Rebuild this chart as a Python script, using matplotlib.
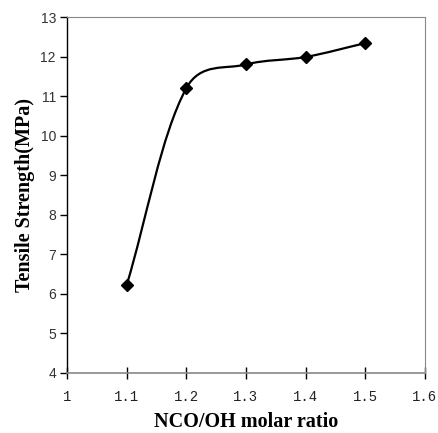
import numpy as np
import matplotlib.pyplot as plt
from matplotlib.path import Path
from matplotlib.patches import PathPatch

# data
ratio = [1.1, 1.2, 1.3, 1.4, 1.5]
strength = [6.22, 11.2, 11.8, 11.99, 12.34]

xticks = [1, 1.1, 1.2, 1.3, 1.4, 1.5, 1.6]
xticklabels = ['1', '1.1', '1.2', '1.3', '1.4', '1.5', '1.6']
yticks = list(range(4, 14))

fig = plt.figure(figsize=(4.39, 4.33), dpi=100)
ax = fig.add_axes([0.1526, 0.1386, 0.8154, 0.8221])
ax.set_xlim(1, 1.6)
ax.set_ylim(4, 13)

# smoothed line: weighted cardinal spline as Bezier, in screen-ish scale
sx, sy = 358 / 0.6, 356 / 9.0
p = np.column_stack([np.array(ratio) * sx, np.array(strength) * sy])
n = len(p)
d = np.linalg.norm(np.diff(p, axis=0), axis=1) ** 0.5
verts = [tuple(p[0])]
codes = [Path.MOVETO]
for i in range(n - 1):
    if i > 0:
        c1 = p[i] + (p[i + 1] - p[i - 1]) * d[i] / (d[i - 1] + d[i]) / 3
    else:
        c1 = p[i] + (p[i + 1] - p[i]) / 3
    if i + 2 < n:
        c2 = p[i + 1] - (p[i + 2] - p[i]) * d[i] / (d[i] + d[i + 1]) / 3
    else:
        c2 = p[i + 1] - (p[i + 1] - p[i]) / 3
    verts += [tuple(c1), tuple(c2), tuple(p[i + 1])]
    codes += [Path.CURVE4] * 3
verts = np.array(verts) / [sx, sy]
ax.add_patch(PathPatch(Path(verts, codes), fill=False, lw=1.6, color='black'))
ax.plot(ratio, strength, linestyle='none', marker='D', markersize=6.5,
        color='black')

ax.set_xticks(xticks)
ax.set_xticklabels(xticklabels)
ax.set_yticks(yticks)
for lab in ax.get_xticklabels():
    lab.set_family('Liberation Mono')
    lab.set_fontsize(10)
    lab.set_color('#222222')
for lab in ax.get_yticklabels():
    lab.set_family('Liberation Sans')
    lab.set_fontsize(10)
    lab.set_color('#333333')
ax.tick_params(axis='x', direction='inout', length=8, width=1, pad=8)
ax.tick_params(axis='y', direction='out', length=5, width=1, pad=3)
for s in ['top', 'right', 'bottom']:
    ax.spines[s].set_color('#888888')
ax.spines['left'].set_linewidth(1.0)
ax.spines['bottom'].set_linewidth(1.2)

ax.set_xlabel('NCO/OH molar ratio', family='Liberation Serif', fontweight='bold',
              fontsize=14.5, labelpad=6)
ax.set_ylabel('Tensile Strength(MPa)', family='Liberation Serif', fontweight='bold',
              fontsize=14.5, labelpad=4)

fig.savefig('out.png', dpi=100)
